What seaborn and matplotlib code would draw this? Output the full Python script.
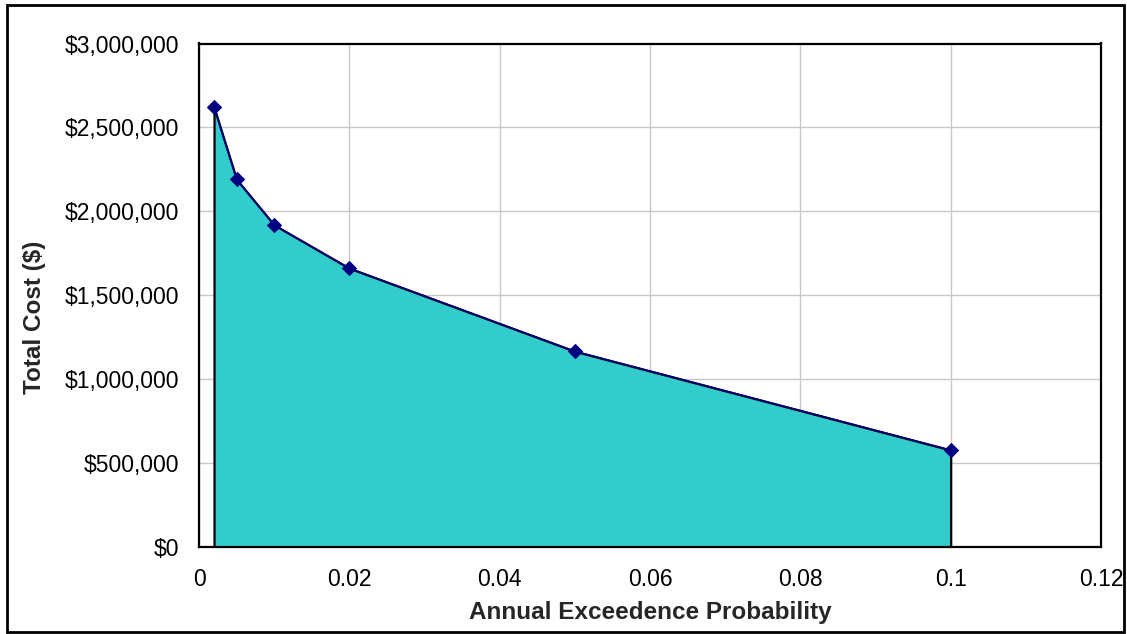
import matplotlib
matplotlib.use("Agg")
import matplotlib.pyplot as plt
import seaborn as sns
import pandas as pd
from matplotlib.patches import Rectangle
from matplotlib.ticker import FuncFormatter, MultipleLocator

# Data
probability = [0.002, 0.005, 0.01, 0.02, 0.05, 0.1]
total_cost = [2620000, 2190000, 1918000, 1660000, 1165000, 576000]

x_ticks = [0, 0.02, 0.04, 0.06, 0.08, 0.1, 0.12]
x_tick_labels = ["0", "0.02", "0.04", "0.06", "0.08", "0.1", "0.12"]

sns.set_style("white")
plt.rcParams['font.family'] = ['Liberation Sans', 'DejaVu Sans']

W, H = 1127, 634
fig = plt.figure(figsize=(W / 100, H / 100), dpi=100)
ax = fig.add_axes([199 / W, 1 - 546.7 / H, (1101 - 199) / W, (546.7 - 43.5) / H])

df = pd.DataFrame({"prob": probability, "cost": total_cost})

# Filled area with black outline
ax.fill_between(df["prob"], 0, df["cost"], facecolor="#33CCCC",
                edgecolor="black", linewidth=1.6, zorder=2)
# Navy line with diamond markers
sns.lineplot(data=df, x="prob", y="cost", ax=ax, color="#000080",
             marker="D", markersize=7, markeredgecolor="#000080",
             linewidth=1.2, zorder=3, sort=False)

ax.set_xlim(0, 0.12)
ax.set_ylim(0, 3000000)
ax.set_xticks(x_ticks)
ax.set_xticklabels(x_tick_labels)
ax.yaxis.set_major_locator(MultipleLocator(500000))
ax.yaxis.set_major_formatter(FuncFormatter(lambda v, p: "${:,.0f}".format(v)))

ax.grid(True, color="#C8C8C8", linewidth=1.0, zorder=0)
ax.set_axisbelow(True)
for s in ax.spines.values():
    s.set_color("black")
    s.set_linewidth(1.6)
    s.set_zorder(5)

ax.tick_params(axis="both", direction="out", length=6, width=1.2,
               color="black", labelsize=16.5, labelcolor="black", pad=8)
ax.tick_params(axis="x", pad=9)

ax.set_xlabel("Annual Exceedence Probability", fontsize=17.5, fontweight="bold",
              labelpad=2)
ax.set_ylabel("Total Cost ($)", fontsize=17.5, fontweight="bold", labelpad=12)
ax.yaxis.set_label_coords(35 / W, 0.5, transform=fig.transFigure)
ax.xaxis.set_label_coords(0.5 * (199 + 1101) / W, 1 - 612 / H,
                          transform=fig.transFigure)
ax.yaxis.label.set_va("center")
ax.xaxis.label.set_va("center")

# Outer chart frame
frame = Rectangle((7 / W, 1 - 632 / H), (1124 - 7) / W, (632 - 5) / H,
                  transform=fig.transFigure, fill=False, edgecolor="black",
                  linewidth=2.0)
fig.patches.append(frame)

fig.savefig("out.png", dpi=100)
